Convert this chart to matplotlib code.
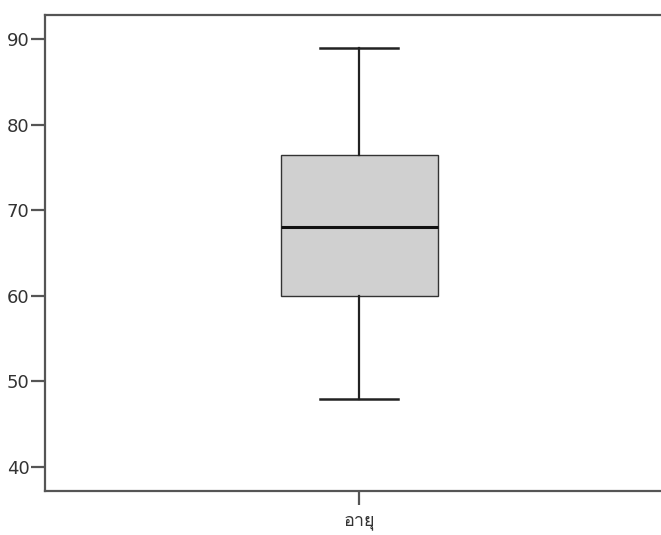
import matplotlib
matplotlib.use("Agg")
import matplotlib.pyplot as plt
from matplotlib import font_manager
from matplotlib.ft2font import FT2Font

# summary statistics for the age variable
labels = ["อายุ"]
whisker_low = [48]
q1 = [60]
median = [68]
q3 = [76.5]
whisker_high = [89]

yticks = [40, 50, 60, 70, 80, 90]


# find an installed font that can draw Thai text
def thai_font():
    for f in font_manager.fontManager.ttflist:
        try:
            if 0x0E2D in FT2Font(f.fname).get_charmap():
                return f.name
        except Exception:
            continue
    return "DejaVu Sans"


thai = thai_font()

fig = plt.figure(figsize=(6.61, 5.35), dpi=100)
# plot area runs past the right edge, so no right border shows
ax = fig.add_axes([45 / 661, 1 - 491 / 535, 628 / 661, 476 / 535])

stats = []
for i, name in enumerate(labels):
    stats.append({
        "label": name,
        "whislo": whisker_low[i],
        "q1": q1[i],
        "med": median[i],
        "q3": q3[i],
        "whishi": whisker_high[i],
    })

ax.bxp(stats, positions=[1], widths=0.25, capwidths=0.125,
       showfliers=False, patch_artist=True,
       boxprops=dict(facecolor="#d0d0d0", edgecolor="#333333", linewidth=1.0),
       medianprops=dict(color="#111111", linewidth=2.2),
       whiskerprops=dict(color="#222222", linewidth=1.6),
       capprops=dict(color="#222222", linewidth=1.8))

ax.set_xlim(0.5, 1.5)
ax.set_ylim(37.2, 92.8)
ax.set_yticks(yticks)
ax.set_xticks([1])
ax.set_xticklabels(labels, fontfamily=[thai, "DejaVu Sans"], fontsize=13, color="#333333")

ax.spines["right"].set_visible(False)
for s in ["left", "top", "bottom"]:
    ax.spines[s].set_color("#555555")
    ax.spines[s].set_linewidth(1.6)

ax.tick_params(axis="both", direction="out", length=10, width=1.6, color="#555555",
               labelcolor="#333333", labelsize=13)
ax.tick_params(axis="x", pad=5)
ax.tick_params(axis="y", pad=1)

fig.savefig("out.png", dpi=100)
